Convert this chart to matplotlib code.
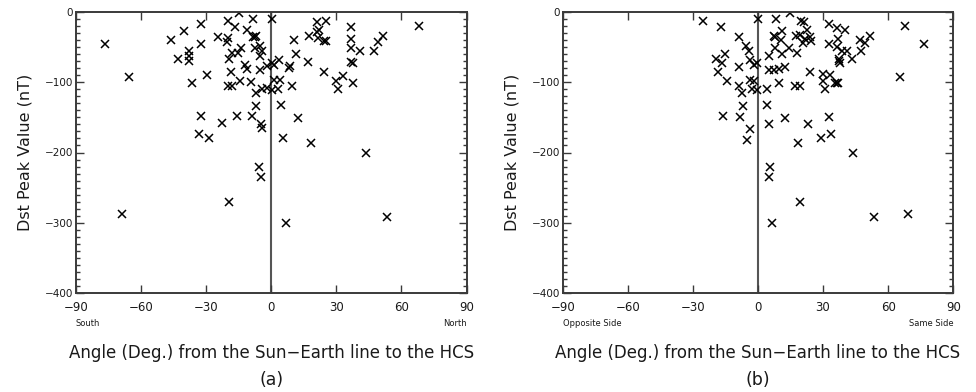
import numpy as np
import matplotlib
matplotlib.use('Agg')
import matplotlib.pyplot as plt
from matplotlib.ticker import MultipleLocator

# panel (a): angle north/south of the HCS vs Dst peak
angle_a = [-14.8, -32.5, -19.9, -16.8, -8.2, 0.2, -40.1, -46.3, -32.5, -24.5,
           -19.9, -20.2, -11.0, -8.2, -7.1, -7.6, -14.0, -7.5, -5.3, -4.2,
           -5.3, -17.9, -15.3, -19.4, -37.8, -43.2, -37.8, -37.8, 10.5, 11.3,
           -12.1, -11.0, -5.3, -1.8, 0.2, 1.3, 3.6, 8.2, 8.7, -29.4,
           -18.6, -36.6, -19.9, -17.9, -14.4, -9.4, -7.1, -4.4, -2.1, 0.2,
           1.3, 3.9, 2.9, 9.4, -7.1, 4.4, -32.5, -22.8, -15.9, -8.7,
           -4.8, -4.1, 12.3, -33.2, -28.9, 5.6, -76.5, -65.5,
           21.3, 25.1, 36.6, 68.0, 22.0, 21.3, 17.4, 21.7, 24.3, 25.1,
           36.9, 36.6, 40.7, 51.5, 49.4, 47.3, 16.9, 36.6, 37.8, 24.3,
           33.2, 30.0, 30.9, 37.8, 18.2, 43.5,
           -68.8, -19.4, -5.6, -4.7, 6.8, 53.2]
dst_a = [-1, -17, -13, -21, -10, -10, -27, -40, -46, -35,
         -37, -43, -26, -35, -34, -36, -51, -51, -48, -55,
         -63, -58, -59, -67, -55, -67, -63, -70, -40, -60,
         -76, -81, -82, -77, -73, -76, -68, -80, -77, -90,
         -86, -101, -105, -106, -98, -100, -115, -110, -108, -111,
         -97, -97, -110, -105, -134, -132, -148, -158, -148, -148,
         -159, -165, -151, -173, -179, -179, -46, -92,
         -14, -13, -22, -20, -25, -28, -34, -37, -41, -41,
         -38, -51, -55, -34, -43, -56, -71, -71, -72, -85,
         -91, -98, -110, -101, -187, -200,
         -288, -271, -221, -235, -300, -292]

# panel (b): angle on the same / opposite side
angle_b = [-25.1, -16.9, -8.9, -5.4, -4.3, -3.6, -19.4, -16.6, -15.0, -18.6,
           -8.9, -14.4, -1.6, -0.5, 0.0, -8.9, -7.4, -3.8, -2.0, -2.8,
           -0.5, -7.0, -16.1, -8.5, -3.8, -5.0,
           4.9, 4.9, 4.1, 4.1, 4.9,
           14.9, 8.4, 20.0, 21.0, 32.6, 36.4, 40.3, 67.9, 11.1, 22.6,
           7.2, 8.0, 10.6, 17.7, 19.5, 21.5, 24.1, 24.4, 20.6, 36.9,
           32.6, 46.9, 49.2, 51.5, 36.4, 38.7, 41.1, 47.5, 7.7, 14.1,
           11.1, 18.0, 37.5, 37.2, 38.0, 43.4, 7.2, 9.8, 12.3, 24.1,
           29.8, 33.3, 29.8, 35.6, 36.4, 37.0, 65.6, 9.5, 17.2, 19.5,
           30.7, 12.6, 32.9, 22.9, 33.7, 29.2,
           76.4, 18.3, 43.8,
           5.7, 4.9, 6.7, 19.5, 53.3, 69.0]
dst_b = [-13, -21, -36, -48, -55, -68, -67, -72, -60, -86,
         -78, -98, -75, -73, -10, -105, -115, -97, -98, -109,
         -111, -134, -148, -149, -166, -182,
         -63, -83, -110, -132, -159,
         -1, -10, -13, -14, -17, -23, -26, -20, -27, -25,
         -34, -35, -40, -34, -33, -39, -36, -41, -44, -39,
         -46, -40, -44, -34, -50, -55, -55, -56, -51, -51,
         -60, -58, -67, -70, -72, -67, -82, -81, -78, -85,
         -88, -89, -98, -101, -101, -101, -92, -101, -105, -105,
         -110, -151, -149, -159, -173, -179,
         -46, -187, -200,
         -221, -235, -300, -271, -292, -288]

xticks = [-90, -60, -30, 0, 30, 60, 90]
yticks = [0, -100, -200, -300, -400]
side_labels = [('South', 'North'), ('Opposite Side', 'Same Side')]
panel_names = ['(a)', '(b)']

fig = plt.figure(figsize=(9.76, 3.92), dpi=100)
lefts = [76 / 976, 562.7 / 976]
axc = '#3a3a3a'
txt = '#1a1a1a'

for i, (xs, ys) in enumerate([(angle_a, dst_a), (angle_b, dst_b)]):
    ax = fig.add_axes([lefts[i], 1 - 293 / 392, 390.5 / 976, 281 / 392])
    ax.plot(xs, ys, 'x', color='black', markersize=5.5, markeredgewidth=1.1)
    ax.axvline(0, color='#555555', lw=1.5, zorder=1)
    ax.set_xlim(-90, 90)
    ax.set_ylim(-400, 0)
    ax.set_xticks(xticks)
    ax.set_yticks(yticks)
    ax.yaxis.set_minor_locator(MultipleLocator(10))
    ax.tick_params(which='both', direction='in', top=True, right=True,
                   color=axc, width=1.0, labelcolor=txt)
    ax.tick_params(which='major', length=6)
    ax.tick_params(which='minor', length=3)
    ax.tick_params(axis='x', labelsize=8.5, pad=6)
    ax.tick_params(axis='y', labelsize=7.5, pad=2)
    for s in ax.spines.values():
        s.set_color(axc)
        s.set_linewidth(1.4)
    ax.set_ylabel('Dst Peak Value (nT)', fontsize=11.5, labelpad=9, color=txt)
    ax.text(0, -0.11, side_labels[i][0], transform=ax.transAxes,
            fontsize=6, ha='left', va='center', color=txt)
    ax.text(1, -0.11, side_labels[i][1], transform=ax.transAxes,
            fontsize=6, ha='right', va='center', color=txt)
    ax.text(0.5, -0.215, 'Angle (Deg.) from the Sun\u2212Earth line to the HCS',
            transform=ax.transAxes, fontsize=12, ha='center', va='center', color=txt)
    ax.text(0.5, -0.31, panel_names[i], transform=ax.transAxes,
            fontsize=12.5, ha='center', va='center', color=txt)

fig.savefig('out.png', dpi=100)
